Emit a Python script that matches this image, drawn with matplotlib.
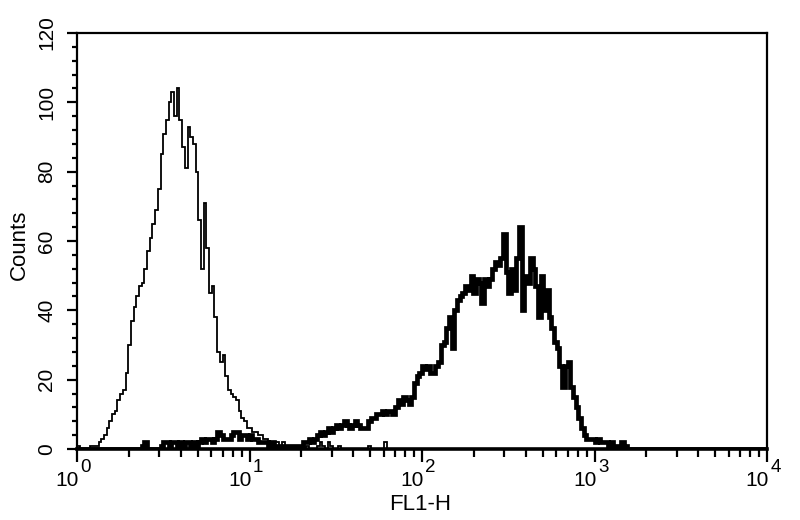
import numpy as np
import matplotlib
matplotlib.use("Agg")
import matplotlib.pyplot as plt
from matplotlib.ticker import MultipleLocator, LogLocator, NullFormatter, FixedLocator

# ---- data (256 log channels over 4 decades) ----
n_channels = 256
log_min, log_max = 0, 4

control_start = 0
control_counts = [
    1, 0, 0, 0, 0, 1, 1, 1, 2, 3,
    4, 6, 8, 10, 11, 14, 16, 17, 22, 30,
    37, 41, 44, 47, 48, 52, 57, 61, 65, 69,
    75, 85, 91, 95, 100, 103, 96, 104, 95, 87,
    81, 93, 90, 88, 80, 66, 52, 71, 58, 45,
    47, 38, 28, 25, 27, 21, 17, 16, 15, 14,
    11, 9, 8, 6, 6, 5, 5, 4, 4, 3,
    3, 2, 2, 2, 2, 1, 2, 1, 1, 1,
    1, 0, 1, 0, 0, 1, 0, 0, 0, 1,
    2, 1, 0, 2, 1, 0, 0, 1, 0, 0,
    0, 0, 0, 0, 0, 0, 0, 0, 1, 0,
    0, 0, 0, 0, 2,
]

sample_start = 24
sample_counts = [
    1, 2, 0, 0, 0, 0,
    0, 1, 2, 2, 1, 2, 2, 1, 2, 1,
    2, 2, 1, 2, 1, 2, 3, 2, 3, 3,
    2, 3, 5, 4, 3, 3, 3, 4, 5, 5,
    3, 4, 4, 3, 4, 3, 3, 2, 2, 2,
    2, 1, 2, 1, 1, 1, 1, 1, 1, 1,
    1, 1, 1, 1, 2, 2, 3, 2, 3, 4,
    5, 4, 5, 6, 5, 6, 7, 6, 7, 8,
    7, 6, 7, 8, 7, 6, 6, 6, 8, 9,
    9, 10, 10, 11, 10, 11, 11, 10, 12, 14,
    13, 15, 14, 13, 15, 19, 21, 22, 24, 23,
    24, 22, 22, 24, 25, 30, 31, 35, 38, 29,
    40, 43, 44, 45, 47, 46, 50, 45, 49, 48,
    42, 49, 47, 49, 52, 54, 53, 55, 62, 51,
    45, 52, 46, 55, 64, 40, 50, 48, 55, 52,
    47, 38, 50, 40, 46, 38, 35, 31, 29, 24,
    18, 24, 25, 18, 15, 12, 9, 6, 4, 3,
    3, 3, 2, 3, 2, 2, 2, 1, 2, 1,
    1, 1, 2, 1, 0,
]

decade_exponents = [0, 1, 2, 3, 4]
y_major_ticks = [0, 20, 40, 60, 80, 100, 120]
x_label = "FL1-H"
y_label = "Counts"

# ---- build full histograms ----
edges = np.logspace(log_min, log_max, n_channels + 1)
control = np.zeros(n_channels)
control[control_start:control_start + len(control_counts)] = control_counts
sample = np.zeros(n_channels)
sample[sample_start:sample_start + len(sample_counts)] = sample_counts

plt.rcParams["font.family"] = ["Liberation Sans", "DejaVu Sans"]

fig = plt.figure(figsize=(8, 5.2), dpi=100)
ax = fig.add_axes([77 / 800, 1 - 449 / 520, 690 / 800, 416 / 520])

ax.stairs(control, edges, baseline=None, color="black", lw=1.3)
ax.stairs(sample, edges, baseline=None, color="black", lw=3.4)

ax.set_xscale("log")
ax.set_xlim(10 ** log_min, 10 ** log_max)
ax.set_ylim(0, 120)

for s in ax.spines.values():
    s.set_linewidth(1.6)
ax.spines["bottom"].set_linewidth(2.6)

# x ticks
ax.xaxis.set_major_locator(FixedLocator([10.0 ** k for k in decade_exponents]))
ax.xaxis.set_minor_locator(LogLocator(base=10, subs=np.arange(2, 10)))
ax.xaxis.set_major_formatter(NullFormatter())
ax.xaxis.set_minor_formatter(NullFormatter())
ax.tick_params(axis="x", which="major", direction="out", length=9, width=1.6)
ax.tick_params(axis="x", which="minor", direction="out", length=5.5, width=1.6)

# y ticks
ax.yaxis.set_major_locator(FixedLocator(y_major_ticks))
ax.yaxis.set_minor_locator(MultipleLocator(4))
ax.tick_params(axis="y", which="major", direction="out", length=7, width=1.6,
               labelsize=15, pad=8, labelrotation=90)
ax.tick_params(axis="y", which="minor", direction="out", length=3.6, width=1.6)
for lab in ax.get_yticklabels():
    lab.set_va("center")

# decade labels 10^k
for k in decade_exponents:
    ax.annotate("10", xy=(10.0 ** k, 0), xycoords=("data", "axes fraction"),
                xytext=(1.5, -16), textcoords="offset points",
                ha="right", va="top", fontsize=15)
    ax.annotate(str(k), xy=(10.0 ** k, 0), xycoords=("data", "axes fraction"),
                xytext=(2.5, -7.5), textcoords="offset points",
                ha="left", va="top", fontsize=13.5)

fig.text(420 / 800, 1 - 504 / 520, x_label, ha="center", va="center", fontsize=16)
fig.text(19 / 800, 1 - 245 / 520, y_label, ha="center", va="center",
         rotation=90, fontsize=16)

fig.savefig("out.png", dpi=100, facecolor="white")
